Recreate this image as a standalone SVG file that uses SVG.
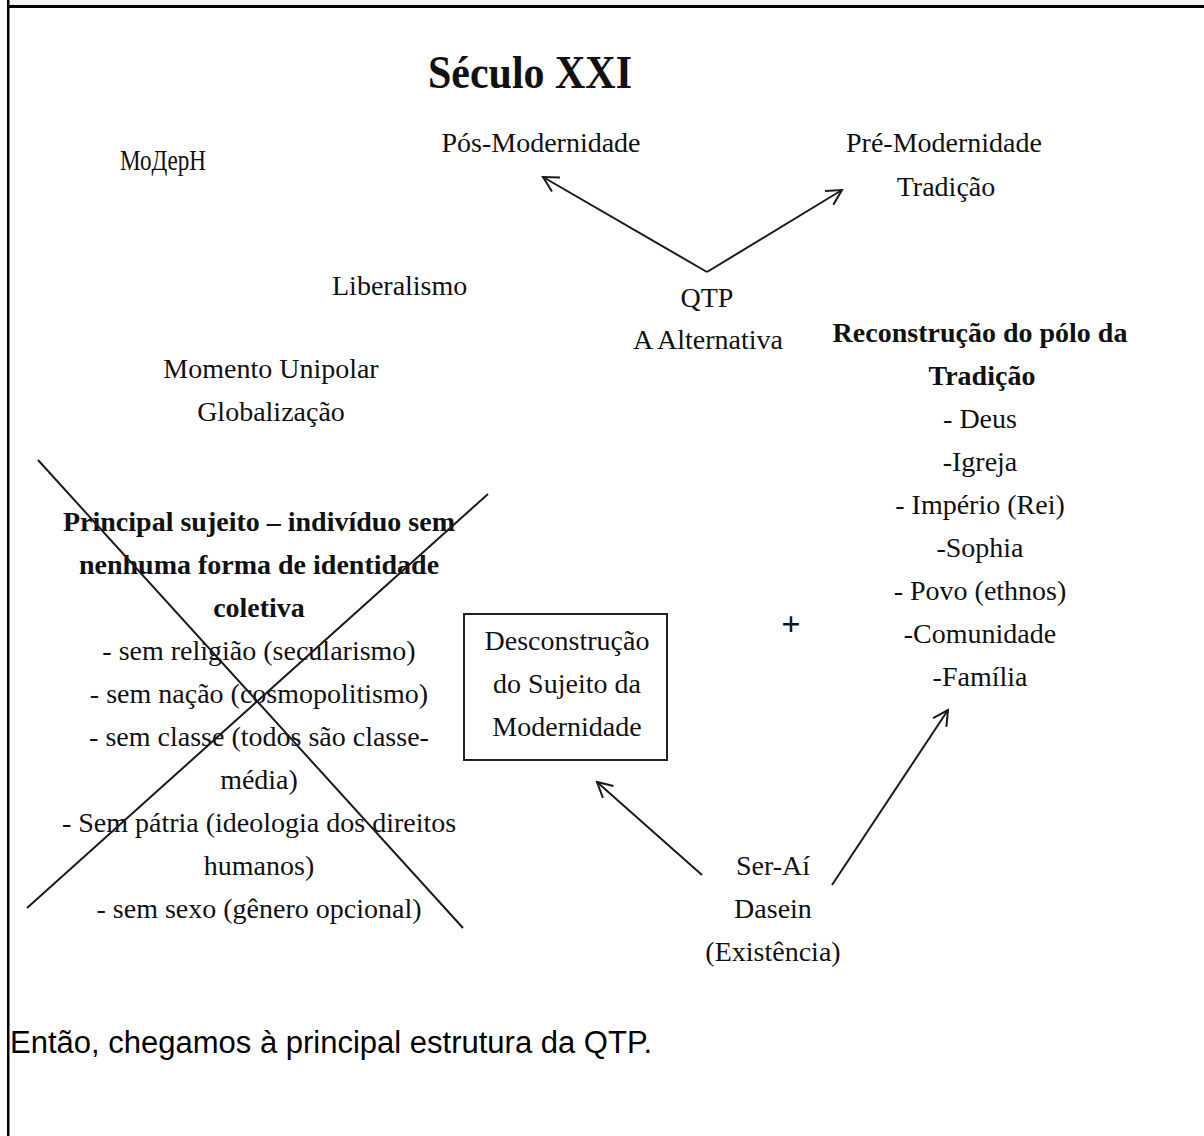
<svg xmlns="http://www.w3.org/2000/svg" width="1204" height="1136" viewBox="0 0 1204 1136">
<defs>
<style>
.t{font-family:"Liberation Serif","Times New Roman",serif;font-size:28px;fill:#111;text-anchor:middle}
.b{font-weight:bold}
.ln{stroke:#1a1a1a;stroke-width:2;fill:none}
</style>
<marker id="ah" viewBox="0 0 22 22" refX="20" refY="11" markerWidth="22" markerHeight="22" markerUnits="userSpaceOnUse" orient="auto">
<polyline points="5,3 20,11 5,19" fill="none" stroke="#1a1a1a" stroke-width="2"/>
</marker>
</defs>
<rect width="1204" height="1136" fill="#fff"/>
<g id="frame">
<rect x="9" y="0" width="1195" height="5" fill="#f3f3f3"/>
<rect x="7" y="5" width="1197" height="3" fill="#000"/>
<rect x="7" y="0" width="2.5" height="1136" fill="#000"/>
</g>
<g id="title"><text class="t b" x="530" y="88" textLength="204" lengthAdjust="spacingAndGlyphs" style="font-size:46px">Século XXI</text></g>
<g id="modern"><text class="t" x="120" y="170" textLength="86" lengthAdjust="spacingAndGlyphs" style="text-anchor:start;font-size:30px">МоДерН</text></g>
<g id="pos"><text class="t" x="541" y="152">Pós-Modernidade</text></g>
<g id="pre"><text class="t" x="944" y="152">Pré-Modernidade</text><text class="t" x="946" y="196">Tradição</text></g>
<g id="liberalismo"><text class="t" x="332" y="295" style="text-anchor:start">Liberalismo</text></g>
<g id="qtp"><text class="t" x="707" y="307">QTP</text><text class="t" x="708" y="349">A Alternativa</text></g>
<g id="unipolar"><text class="t" x="271" y="378">Momento Unipolar</text><text class="t" x="271" y="421">Globalização</text></g>
<g id="reconstrucao">
<text class="t b" x="980" y="342">Reconstrução do pólo da</text>
<text class="t b" x="982" y="385">Tradição</text>
<text class="t" x="980" y="428">- Deus</text>
<text class="t" x="980" y="471">-Igreja</text>
<text class="t" x="980" y="514">- Império (Rei)</text>
<text class="t" x="980" y="557">-Sophia</text>
<text class="t" x="980" y="600">- Povo (ethnos)</text>
<text class="t" x="980" y="643">-Comunidade</text>
<text class="t" x="980" y="686">-Família</text>
</g>
<g id="sujeito">
<text class="t b" x="259" y="531">Principal sujeito – indivíduo sem</text>
<text class="t b" x="259" y="574">nenhuma forma de identidade</text>
<text class="t b" x="259" y="617">coletiva</text>
<text class="t" x="259" y="660">- sem religião (secularismo)</text>
<text class="t" x="259" y="703">- sem nação (cosmopolitismo)</text>
<text class="t" x="259" y="746">- sem classe (todos são classe-</text>
<text class="t" x="259" y="789">média)</text>
<text class="t" x="259" y="832">- Sem pátria (ideologia dos direitos</text>
<text class="t" x="259" y="875">humanos)</text>
<text class="t" x="259" y="918">- sem sexo (gênero opcional)</text>
<line class="ln" x1="38" y1="460" x2="463" y2="928"/>
<line class="ln" x1="488" y1="494" x2="27" y2="908"/>
</g>
<g id="desconstrucao">
<rect x="464" y="614" width="203" height="146" fill="none" stroke="#222" stroke-width="2"/>
<text class="t" x="567" y="650">Desconstrução</text>
<text class="t" x="567" y="693">do Sujeito da</text>
<text class="t" x="567" y="736">Modernidade</text>
</g>
<g id="plus"><text class="t b" x="791" y="635" style="font-size:34px">+</text></g>
<g id="dasein">
<text class="t" x="773" y="875">Ser-Aí</text>
<text class="t" x="773" y="918">Dasein</text>
<text class="t" x="773" y="961">(Existência)</text>
</g>
<g id="conclusao"><text x="10" y="1053" style="font-family:'Liberation Sans',Arial,sans-serif;font-size:31px;fill:#000">Então, chegamos à principal estrutura da QTP.</text></g>
<g id="connectors">
<line class="ln" x1="707" y1="272" x2="543" y2="177" marker-end="url(#ah)"/>
<line class="ln" x1="707" y1="272" x2="842" y2="190" marker-end="url(#ah)"/>
<line class="ln" x1="702" y1="875" x2="597" y2="782" marker-end="url(#ah)"/>
<line class="ln" x1="832" y1="885" x2="948" y2="710" marker-end="url(#ah)"/>
</g>
</svg>
